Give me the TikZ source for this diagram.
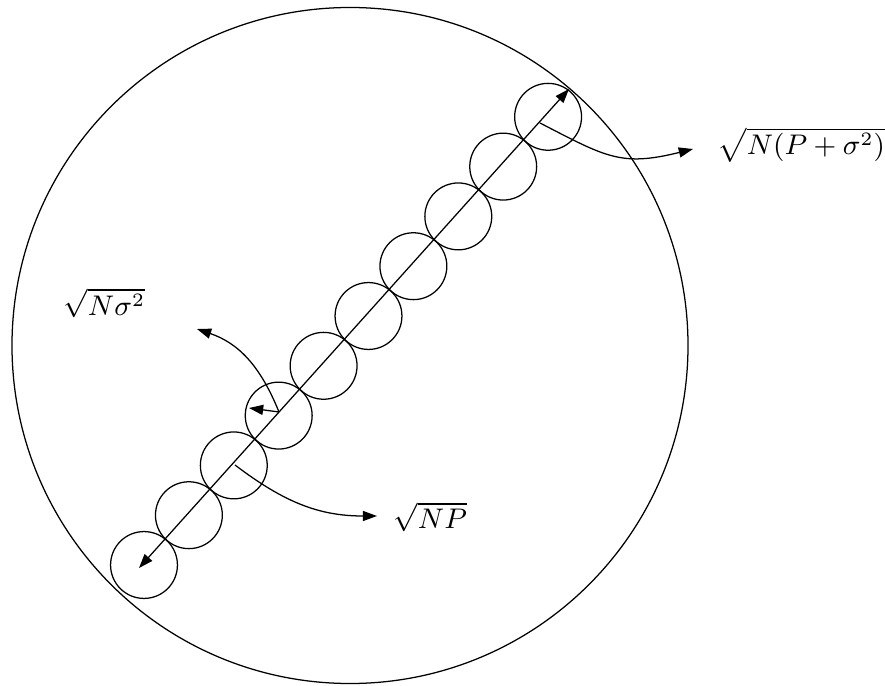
\documentclass[tikz,border=0pt]{standalone}
\usepackage{amsmath}
\usetikzlibrary{arrows.meta}

\begin{document}
\begin{tikzpicture}[
  x=0.317pt, y=-0.317pt,
  ring/.style={circle, draw, inner sep=0pt, outer sep=0pt, minimum size=21.2pt},
  bigring/.style={circle, draw, inner sep=0pt, outer sep=0pt, minimum size=214.3pt},
  arr/.style={-{Triangle[length=4.5pt,width=3.2pt]}},
  darr/.style={{Triangle[length=4.5pt,width=3.2pt]}-{Triangle[length=4.5pt,width=3.2pt]}},
  lbl/.style={anchor=west, inner sep=0pt, font=\small},
]
  \useasboundingbox (0,0) rectangle (885,686);

  % Outer sphere
  \node[bigring] (outer) at (350,345.5) {};

  % Noise spheres along the line
  \node[ring] (c0) at (144,565) {};
  \node[ring] (c1) at (188.9,515.2) {};
  \node[ring] (c2) at (233.8,465.4) {};
  \node[ring] (c3) at (278.7,415.6) {};
  \node[ring] (c4) at (323.6,365.8) {};
  \node[ring] (c5) at (368.5,316) {};
  \node[ring] (c6) at (413.4,266.2) {};
  \node[ring] (c7) at (458.3,216.4) {};
  \node[ring] (c8) at (503.2,166.6) {};
  \node[ring] (c9) at (548.1,116.8) {};

  % Labels
  \node[lbl] (ltotal) at (717,145) {$\sqrt{N(P+\sigma^2)}$};
  \node[lbl] (lsignal) at (393,517) {$\sqrt{NP}$};
  \node[lbl] (lnoise) at (63,303) {$\sqrt{N\sigma^2}$};

  % Points on the line and arrow ends
  \coordinate (lo) at (139,568);
  \coordinate (hi) at (569,89);
  \coordinate (ptotal) at (540,123);
  \coordinate (psignal) at (235,465);
  \coordinate (pnoise) at (279,412);
  \coordinate (ttotal) at (693,149);
  \coordinate (tsignal) at (377,516);
  \coordinate (tnoise) at (197,329);
  \coordinate (tradius) at (249,408);

  % Diameter
  \draw[darr] (lo) -- (hi);

  % Radius of one noise sphere
  \draw[arr] (pnoise) -- (tradius);

  % Leaders
  \draw[arr] (ptotal) .. controls (606,157) and (621,167) .. (ttotal);
  \draw[arr] (psignal) .. controls (285,503) and (320,516) .. (tsignal);
  \draw[arr] (pnoise) .. controls (260,365) and (238,343) .. (tnoise);
\end{tikzpicture}
\end{document}
